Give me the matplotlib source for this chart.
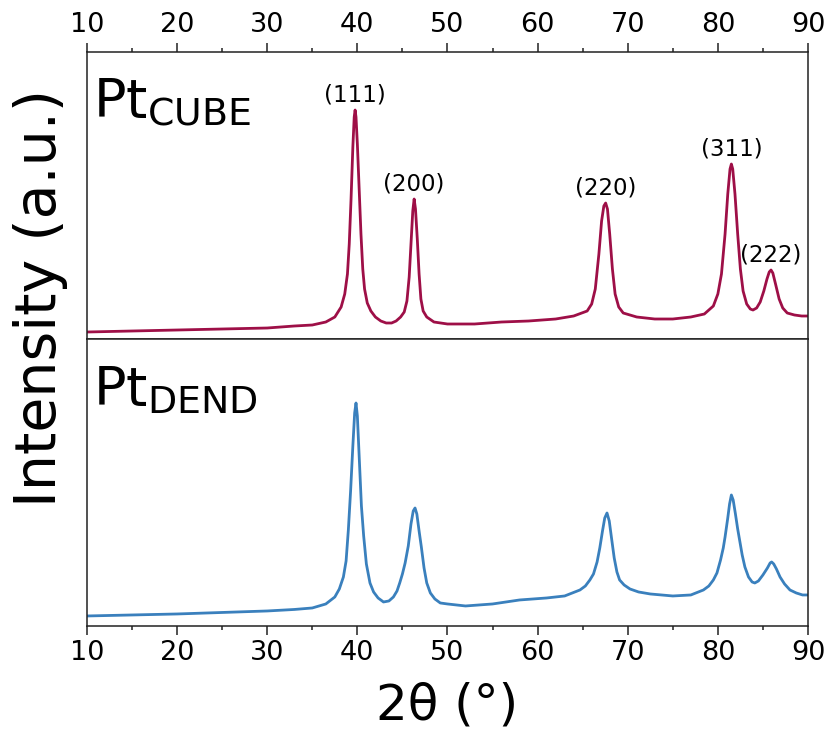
import matplotlib as mpl
mpl.use('Agg')
import matplotlib.pyplot as plt
from matplotlib.ticker import MultipleLocator

plt.rcParams['font.family'] = ['DejaVu Sans']
plt.rcParams['mathtext.fontset'] = 'custom'
plt.rcParams['mathtext.rm'] = 'DejaVu Sans'

# Pt cubes, intensity (a.u.)
cube_x = [10, 15, 20, 25, 30, 33, 35, 36.5, 37.5, 38.2, 38.6, 38.9, 39.1, 39.3, 39.5, 39.65,
          39.75, 39.85, 40.0, 40.2, 40.4, 40.6, 40.8, 41.1, 41.5, 42.0, 42.6, 43.2, 43.8,
          44.3, 44.8, 45.2, 45.5, 45.75, 45.95, 46.15, 46.3, 46.45, 46.65, 46.85, 47.05,
          47.3, 47.7, 48.5, 50, 53, 56, 59, 62, 64, 65.5, 66.0, 66.4, 66.8, 67.1, 67.35,
          67.55, 67.75, 68.0, 68.3, 68.6, 69.0, 69.5, 71, 73, 75, 77, 78.5, 79.5, 80.0,
          80.4, 80.8, 81.1, 81.35, 81.5, 81.65, 81.9, 82.2, 82.5, 82.8, 83.2, 83.6, 83.9,
          84.3, 84.7, 85.1, 85.45, 85.7, 85.9, 86.1, 86.4, 86.8, 87.2, 87.7, 88.5, 89.3, 90]
cube_y = [7, 8, 9, 10, 11, 13, 14, 17, 22, 32, 45, 65, 95, 140, 192, 222,
          229, 222, 195, 150, 105, 70, 50, 36, 28, 22, 18, 16, 16,
          18, 22, 27, 38, 62, 95, 128, 140, 130, 100, 65, 40,
          28, 22, 17, 15, 15, 17, 18, 20, 23, 28, 35, 50, 85, 118, 133,
          136, 130, 105, 70, 45, 32, 26, 22, 20, 20, 22, 25, 33, 45,
          65, 105, 145, 170, 175, 170, 145, 105, 70, 48, 35, 30, 29,
          31, 37, 48, 60, 67, 69, 66, 55, 40, 31, 26, 24, 23, 23]

# Pt dendrites
dend_x = [10, 15, 20, 25, 30, 33, 35, 36.5, 37.5, 38.0, 38.45, 38.75, 39.0, 39.25, 39.5,
          39.7, 39.85, 40.0, 40.2, 40.45, 40.7, 41.0, 41.4, 41.8, 42.3, 42.9, 43.5, 44.0,
          44.4, 44.7, 45.0, 45.3, 45.65, 45.95, 46.2, 46.4, 46.6, 46.85, 47.1, 47.4, 47.7,
          48.1, 48.6, 49.2, 50, 52, 55, 58, 61, 63, 64.7, 65.3, 65.8, 66.2, 66.6, 66.9,
          67.2, 67.45, 67.7, 67.95, 68.2, 68.5, 68.8, 69.1, 69.6, 70.25, 71.2, 72.5, 75,
          77, 78.4, 79.0, 79.5, 79.9, 80.3, 80.6, 80.8, 81.1, 81.3, 81.5, 81.7, 81.95,
          82.2, 82.45, 82.7, 83.0, 83.4, 83.8, 84.1, 84.5, 85.0, 85.5, 85.8, 85.97, 86.2,
          86.5, 86.9, 87.4, 88.0, 88.7, 89.4, 90]
dend_y = [10, 11, 12, 13.5, 15, 16.5, 18, 22, 29, 37, 49, 65, 96, 135, 180,
          213, 223, 210, 170, 120, 90, 62, 43, 34, 28, 24, 25, 29,
          35, 43, 52, 63, 80, 102, 115, 118, 112, 95, 79, 58, 43,
          33, 27, 23, 22, 20, 22, 26, 28, 30, 36, 40, 46, 52, 64, 78,
          95, 108, 113, 105, 88, 68, 54, 46, 41, 37, 34, 32, 30,
          31, 36, 40, 46, 53, 66, 78, 89, 108, 122, 131, 126, 112,
          97, 84, 71, 59, 49, 44, 43, 45, 51, 58, 63, 64, 62,
          57, 49, 42, 36, 33, 31, 31]

peak_labels = ['(111)', '(200)', '(220)', '(311)', '(222)']
peak_x = [39.75, 46.3, 67.55, 81.5, 85.9]
peak_y = [229, 140, 136, 175, 69]

cube_color = '#9e0f47'
dend_color = '#3a80bd'

fig = plt.figure(figsize=(8.34, 7.36), dpi=100)
ax1 = fig.add_axes([0.1043, 0.5394, 0.8645, 0.3899])
ax2 = fig.add_axes([0.1043, 0.1495, 0.8645, 0.3899])

ax1.plot(cube_x, cube_y, color=cube_color, lw=2)
ax2.plot(dend_x, dend_y, color=dend_color, lw=2)

for ax in (ax1, ax2):
	ax.set_xlim(10, 90)
	ax.set_ylim(0, 287)
	ax.set_yticks([])
	ax.xaxis.set_major_locator(MultipleLocator(10))
	ax.xaxis.set_minor_locator(MultipleLocator(5))
	for s in ax.spines.values():
		s.set_linewidth(1.1)
		s.set_color('#222222')
	ax.tick_params(axis='x', which='major', length=6.5, width=1.1, labelsize=19.5, pad=3.5, color='#222222')
	ax.tick_params(axis='x', which='minor', length=3, width=1.1, color='#222222')

ax1.xaxis.tick_top()
ax1.tick_params(axis='x', which='both', bottom=False, top=True, labelbottom=False, labeltop=True)
ax2.tick_params(axis='x', which='both', bottom=True, top=False, labelbottom=True, labeltop=False)

ax1.text(0.008, 0.77, r'Pt$_{\mathrm{CUBE}}$', transform=ax1.transAxes, fontsize=39, va='baseline')
ax2.text(0.008, 0.77, r'Pt$_{\mathrm{DEND}}$', transform=ax2.transAxes, fontsize=39, va='baseline')

for lab, px, py in zip(peak_labels, peak_x, peak_y):
	ax1.annotate(lab, (px, py), xytext=(0, 11), textcoords='offset points',
		ha='center', va='center', fontsize=16.5)

fig.text(0.048, 1 - 298 / 736, 'Intensity (a.u.)', rotation=90, fontsize=41, ha='center', va='center')
fig.text(447 / 834, 1 - 706 / 736, '2θ (°)', fontsize=36, ha='center', va='center')

fig.savefig('out.png', dpi=100)
